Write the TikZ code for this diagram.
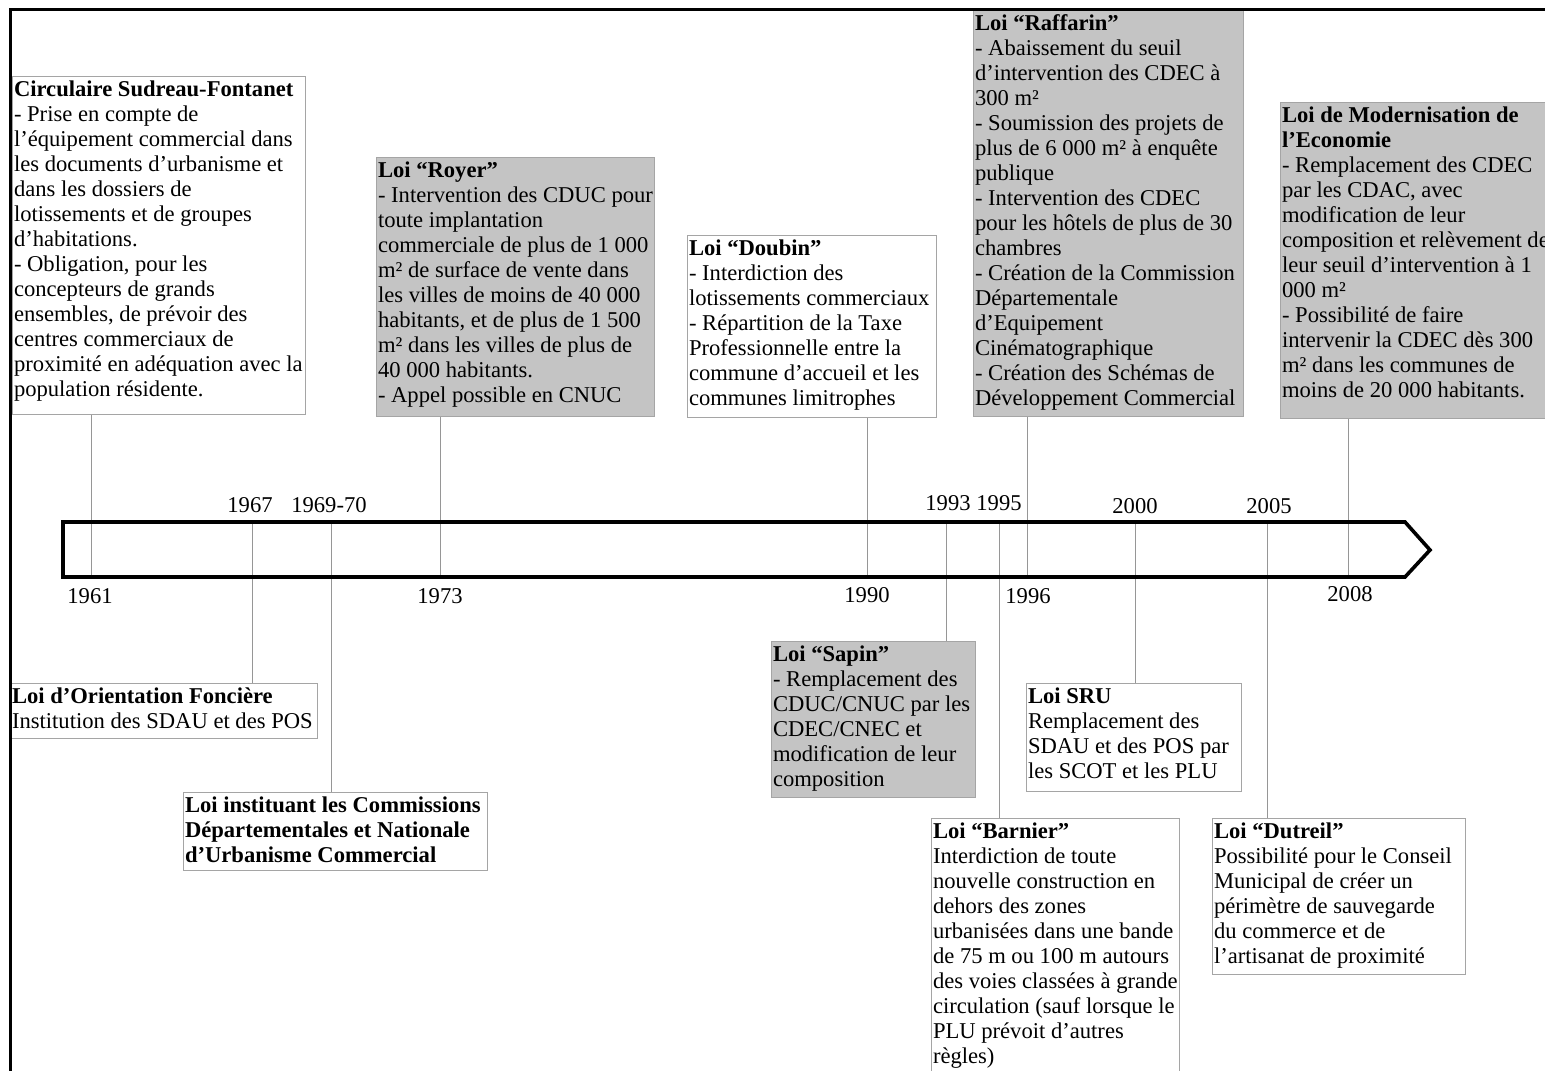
\documentclass[tikz,border=0pt]{standalone}
\usepackage{fontspec}
\setmainfont{Liberation Serif}
\definecolor{boxline}{RGB}{165,165,165}
\definecolor{linegray}{RGB}{150,150,150}
\definecolor{boxgray}{RGB}{196,196,196}
\tikzset{
  tlframe/.style={draw=boxline, line width=0.5pt, anchor=north west, inner sep=0pt},
  tltext/.style={anchor=north west, align=left, inner xsep=0.8pt, inner ysep=2pt,
                 font=\fontsize{11.3}{12.5}\selectfont, text=black},
  yr/.style={font=\fontsize{11.3}{12.5}\selectfont, inner sep=0pt, text=black},
  conn/.style={draw=linegray, line width=0.5pt},
  bar/.style={draw=black, line width=1.8pt, line join=miter},
  outer/.style={draw=black, line width=1.5pt}
}
\newcommand\tlbox[7]{%
  \node[tlframe, fill=#6, minimum width={(#4-#2)*0.5pt}, minimum height={(#5-#3)*0.5pt}] (#1) at (#2,#3) {};
  \node[tltext] (#1-t) at (#1.north west) {#7};
}
\begin{document}
\begin{tikzpicture}[x=0.5pt,y=-0.5pt]
\clip (0,0) rectangle (1545,1070);
\fill[white] (0,0) rectangle (1545,1070);

% tick coordinates on the time bar
\coordinate (barT) at (0,522);
\coordinate (barB) at (0,577);
\coordinate (t61) at (91,0);
\coordinate (t67) at (252,0);
\coordinate (t69) at (331,0);
\coordinate (t73) at (440,0);
\coordinate (t90) at (867,0);
\coordinate (t93) at (946,0);
\coordinate (t95) at (999,0);
\coordinate (t96) at (1027,0);
\coordinate (t00) at (1135,0);
\coordinate (t05) at (1267,0);
\coordinate (t08) at (1348,0);

% boxes above the bar
\tlbox{circ}{12}{76}{305}{414}{white}{\textbf{Circulaire Sudreau-Fontanet}\\- Prise en compte de\\l’équipement commercial dans\\les documents d’urbanisme et\\dans les dossiers de\\lotissements et de groupes\\d’habitations.\\- Obligation, pour les\\concepteurs de grands\\ensembles, de prévoir des\\centres commerciaux de\\proximité en adéquation avec la\\population résidente.}

\tlbox{royer}{376}{157}{654}{416}{boxgray}{\textbf{Loi “Royer”}\\- Intervention des CDUC pour\\toute implantation\\commerciale de plus de 1 000\\m² de surface de vente dans\\les villes de moins de 40 000\\habitants, et de plus de 1 500\\m² dans les villes de plus de\\40 000 habitants.\\- Appel possible en CNUC}

\tlbox{doubin}{687}{235}{936}{417}{white}{\textbf{Loi “Doubin”}\\- Interdiction des\\lotissements commerciaux\\- Répartition de la Taxe\\Professionnelle entre la\\commune d’accueil et les\\communes limitrophes}

\tlbox{raff}{973}{10}{1243}{416}{boxgray}{\textbf{Loi “Raffarin”}\\- Abaissement du seuil\\d’intervention des CDEC à\\300 m²\\- Soumission des projets de\\plus de 6 000 m² à enquête\\publique\\- Intervention des CDEC\\pour les hôtels de plus de 30\\chambres\\- Création de la Commission\\Départementale\\d’Equipement\\Cinématographique\\- Création des Schémas de\\Développement Commercial}

\tlbox{lme}{1280}{102}{1570}{418}{boxgray}{\textbf{Loi de Modernisation de}\\\textbf{l’Economie}\\- Remplacement des CDEC\\par les CDAC, avec\\modification de leur\\composition et relèvement de\\leur seuil d’intervention à 1\\000 m²\\- Possibilité de faire\\intervenir la CDEC dès 300\\m² dans les communes de\\moins de 20 000 habitants.}

% boxes below the bar
\tlbox{lof}{10}{683}{317}{738}{white}{\textbf{Loi d’Orientation Foncière}\\Institution des SDAU et des POS}

\tlbox{cduc}{183}{792}{487}{870}{white}{\textbf{Loi instituant les Commissions}\\\textbf{Départementales et Nationale}\\\textbf{d’Urbanisme Commercial}}

\tlbox{sapin}{771}{641}{975}{797}{boxgray}{\textbf{Loi “Sapin”}\\- Remplacement des\\CDUC/CNUC par les\\CDEC/CNEC et\\modification de leur\\composition}

\tlbox{sru}{1026}{683}{1241}{791}{white}{\textbf{Loi SRU}\\Remplacement des\\SDAU et des POS par\\les SCOT et les PLU}

\tlbox{barnier}{931}{818}{1179}{1090}{white}{\textbf{Loi “Barnier”}\\Interdiction de toute\\nouvelle construction en\\dehors des zones\\urbanisées dans une bande\\de 75 m ou 100 m autours\\des voies classées à grande\\circulation (sauf lorsque le\\PLU prévoit d’autres\\règles)}

\tlbox{dutreil}{1212}{818}{1465}{974}{white}{\textbf{Loi “Dutreil”}\\Possibilité pour le Conseil\\Municipal de créer un\\périmètre de sauvegarde\\du commerce et de\\l’artisanat de proximité}

% connectors
\draw[conn] (circ.south -| t61) -- (barB -| t61);
\draw[conn] (barT -| t67) -- (lof.north -| t67);
\draw[conn] (barT -| t69) -- (cduc.north -| t69);
\draw[conn] (royer.south -| t73) -- (barB -| t73);
\draw[conn] (doubin.south -| t90) -- (barB -| t90);
\draw[conn] (barT -| t93) -- (sapin.north -| t93);
\draw[conn] (barT -| t95) -- (barnier.north -| t95);
\draw[conn] (raff.south -| t96) -- (barB -| t96);
\draw[conn] (barT -| t00) -- (sru.north -| t00);
\draw[conn] (barT -| t05) -- (dutreil.north -| t05);
\draw[conn] (lme.south -| t08) -- (barB -| t08);

% time bar
\draw[bar] (63,522) -- (1405,522) -- (1430,550) -- (1405,577) -- (63,577) -- cycle;

% year labels
\node[yr] (y67) at (250,505) {1967};
\node[yr] (y69) at (329,505) {1969-70};
\node[yr] (y93) at (948,503) {1993};
\node[yr] (y95) at (999,503) {1995};
\node[yr] (y00) at (1135,506) {2000};
\node[yr] (y05) at (1269,506) {2005};
\node[yr] (y61) at (90,596) {1961};
\node[yr] (y73) at (440,596) {1973};
\node[yr] (y90) at (867,595) {1990};
\node[yr] (y96) at (1028,596) {1996};
\node[yr] (y08) at (1350,594) {2008};

% outer frame
\draw[outer] (10,1080) -- (10,10) -- (1560,10);
\end{tikzpicture}
\end{document}
